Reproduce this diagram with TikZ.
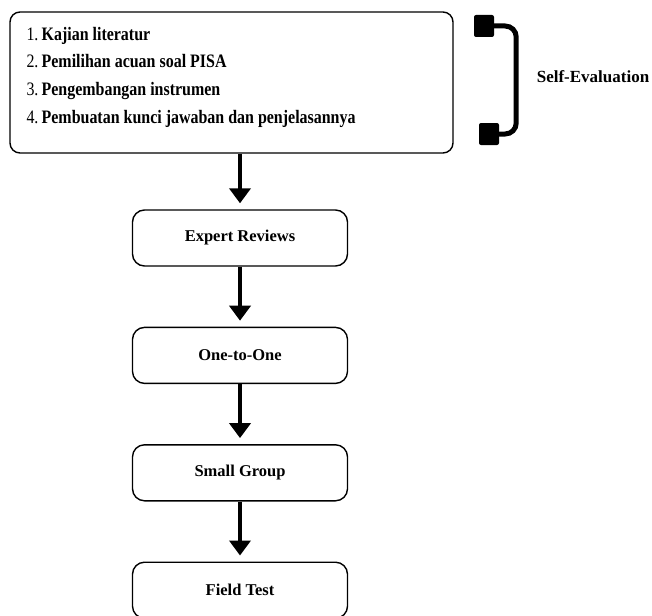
\documentclass[tikz,border=0pt]{standalone}
\usepackage{fontspec}
\setmainfont{Liberation Serif}
\newfontfamily\stepfont[FakeStretch=0.84]{Liberation Serif}
\usetikzlibrary{arrows.meta,positioning}

\tikzset{
  stage/.style={draw, line width=1.4pt, rounded corners=12pt, minimum width=215pt,
    minimum height=56pt, font=\fontsize{16.5}{18}\selectfont\bfseries},
  flow/.style={line width=4pt, -{Triangle[width=21pt,length=15pt]}, shorten >=6pt},
  knob/.style={fill, rounded corners=2pt, minimum width=20pt, minimum height=22pt, inner sep=0pt}
}

\begin{document}
\begin{tikzpicture}[x=1pt, y=-1pt, node distance=60pt]
      \useasboundingbox (0,0) rectangle (652,615);
      % tahap awal
      \node[draw, line width=1.4pt, rounded corners=10pt, minimum width=443pt, minimum height=141pt] (prep) at (231.5,82.5) {};
      \node[anchor=north west, inner sep=0pt, align=left, font=\stepfont\fontsize{19}{27.8}\selectfont]
        (steps) at ([shift={(17,15.5)}]prep.north west)
        {1.\,\textbf{Kajian literatur}\\
         2.\,\textbf{Pemilihan acuan soal PISA}\\
         3.\,\textbf{Pengembangan instrumen}\\
         4.\,\textbf{Pembuatan kunci jawaban dan penjelasannya}};
      % self evaluation
      \node[knob] (selfA) at (484,26) {};
      \node[knob] (selfB) at (489,134) {};
      \draw[line width=5pt, rounded corners=11pt] (selfA.east) -- ++(22,0) |- (selfB.east);
      \node[font=\fontsize{17}{19}\selectfont\bfseries] (self) at (593,77) {Self-Evaluation};
      % tahap uji
      \node[stage] (expert) at (240,238) {Expert Reviews};
      \node[stage, below=of expert] (one) {One-to-One};
      \node[stage, below=of one] (small) {Small Group};
      \node[stage, below=of small] (field) {Field Test};
      \draw[flow] (expert.north |- prep.south) -- (expert.north);
      \draw[flow] (expert) -- (one);
      \draw[flow] (one) -- (small);
      \draw[flow] (small) -- (field);
\end{tikzpicture}
\end{document}
